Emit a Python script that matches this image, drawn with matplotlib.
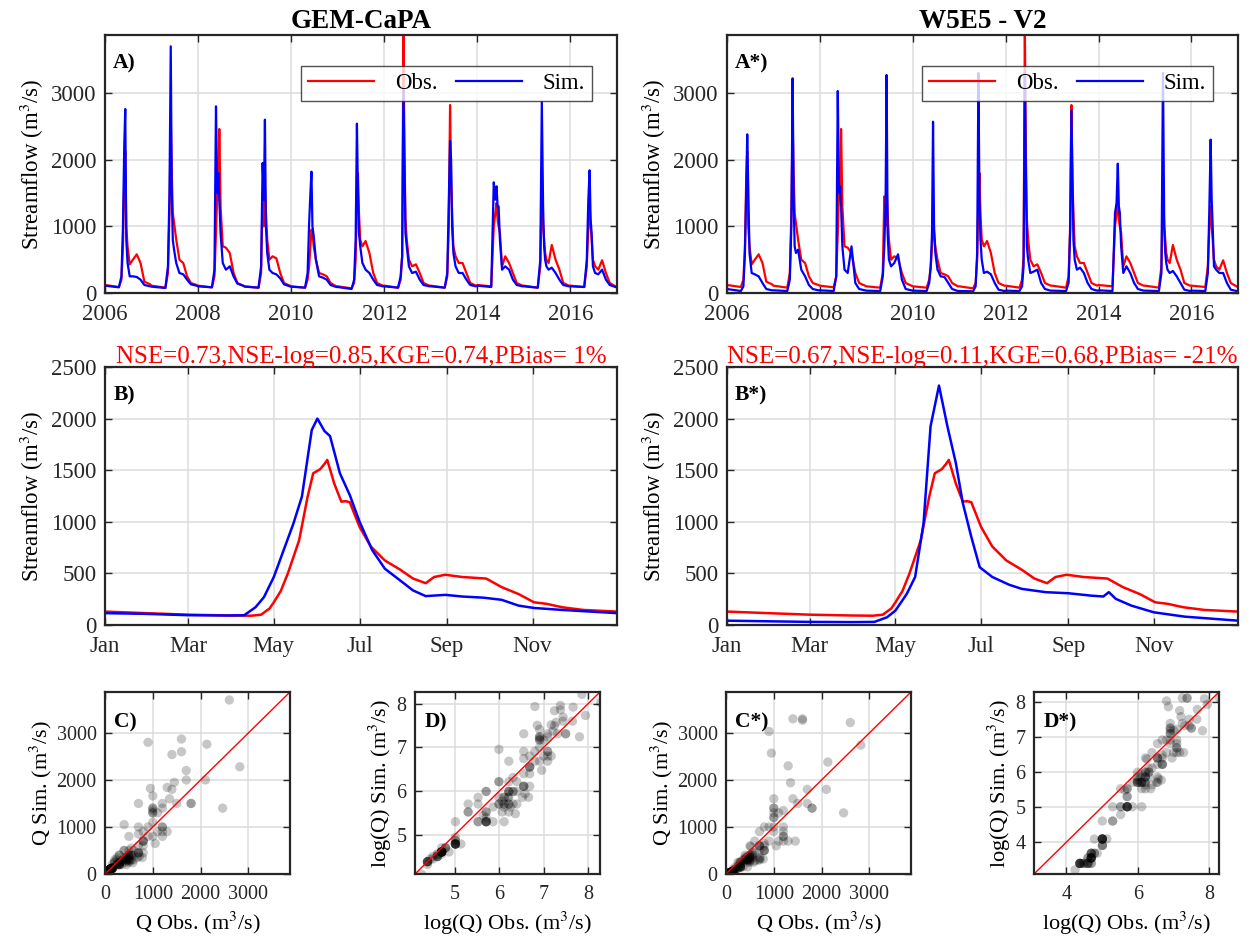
import matplotlib
matplotlib.use("Agg")
import matplotlib.pyplot as plt
import numpy as np
import datetime as dt

plt.rcParams['font.family'] = ['Liberation Serif', 'DejaVu Serif']
plt.rcParams['mathtext.fontset'] = 'stix'

# ---- daily-ish streamflow, read at a few days of each year (m3/s) ----
years = list(range(2006, 2017))
grid_doy = [1, 110, 130, 142, 152, 160, 168, 178, 195, 220, 250, 280, 310, 355]

q_obs = [
    [120, 90, 200, 700, 1700, 2130, 1000, 700, 430, 500, 580, 450, 170, 130],
    [110, 80, 300, 1200, 2600, 1800, 1200, 1050, 800, 500, 450, 250, 150, 120],
    [110, 85, 250, 900, 1500, 1400, 2460, 1300, 700, 680, 600, 300, 150, 110],
    [100, 80, 300, 1450, 1000, 1600, 1200, 800, 500, 550, 520, 300, 150, 110],
    [100, 80, 200, 400, 700, 950, 900, 700, 500, 300, 280, 250, 150, 100],
    [100, 70, 150, 500, 1400, 1800, 1200, 800, 700, 780, 600, 300, 150, 110],
    [110, 80, 200, 550, 3950, 2100, 1100, 800, 500, 400, 430, 300, 150, 110],
    [110, 80, 250, 1000, 2820, 1700, 1200, 700, 550, 450, 450, 300, 150, 110],
    [120, 100, 1000, 1200, 1350, 1100, 1000, 900, 400, 550, 450, 300, 150, 110],
    [110, 80, 400, 1600, 1000, 800, 600, 500, 450, 720, 500, 350, 150, 110],
    [110, 90, 400, 1000, 1300, 1000, 800, 500, 400, 350, 490, 300, 150, 100],
]
q_gem = [
    [110, 85, 250, 1000, 2200, 2760, 800, 450, 250, 250, 240, 200, 120, 100],
    [95, 75, 400, 1500, 3700, 1500, 800, 650, 450, 300, 280, 200, 130, 110],
    [100, 85, 350, 2800, 1500, 1800, 1400, 900, 450, 350, 400, 250, 140, 110],
    [95, 80, 400, 1950, 1400, 2600, 1000, 600, 350, 300, 280, 220, 130, 100],
    [95, 80, 300, 1050, 1500, 1820, 1000, 850, 500, 250, 230, 200, 120, 90],
    [90, 60, 200, 800, 2540, 1500, 900, 700, 450, 350, 300, 200, 120, 100],
    [100, 80, 250, 550, 3060, 2000, 900, 700, 400, 300, 320, 200, 120, 100],
    [100, 80, 300, 1350, 2280, 2000, 1000, 600, 400, 300, 300, 200, 120, 100],
    [110, 90, 1660, 1400, 1600, 1300, 1300, 800, 350, 400, 350, 200, 120, 100],
    [100, 80, 500, 2870, 1300, 700, 500, 400, 350, 380, 300, 200, 120, 100],
    [100, 90, 500, 1400, 1840, 1100, 900, 400, 300, 280, 350, 200, 120, 90],
]
q_w5e5 = [
    [60, 30, 100, 600, 1500, 2380, 1600, 600, 300, 280, 250, 150, 60, 40],
    [40, 30, 200, 1000, 3220, 1400, 700, 600, 650, 350, 250, 120, 60, 40],
    [40, 30, 250, 3030, 1500, 1600, 1300, 700, 350, 300, 700, 150, 60, 40],
    [35, 30, 250, 700, 1400, 3270, 900, 500, 400, 450, 580, 200, 60, 40],
    [35, 30, 150, 400, 900, 2570, 1000, 600, 350, 250, 240, 150, 60, 30],
    [30, 25, 100, 600, 3300, 1400, 800, 500, 300, 320, 280, 150, 50, 30],
    [35, 30, 100, 400, 3300, 1800, 700, 500, 300, 320, 350, 150, 60, 35],
    [35, 30, 150, 900, 2740, 1800, 800, 500, 350, 380, 300, 150, 60, 35],
    [40, 30, 1200, 1350, 1940, 1300, 1200, 700, 300, 400, 300, 150, 60, 35],
    [35, 30, 300, 3300, 1000, 600, 450, 350, 300, 330, 250, 150, 50, 30],
    [35, 30, 300, 1300, 2300, 1400, 1000, 400, 350, 300, 300, 150, 50, 30],
]

# ---- mean annual cycle (day of year, m3/s) ----
clim_obs_doy = [1, 30, 60, 90, 105, 112, 118, 121, 126, 131, 139, 145, 149, 154, 157,
                159, 164, 169, 172, 175, 182, 190, 200, 211, 220, 229, 235, 243, 255,
                272, 283, 295, 306, 315, 326, 341, 365]
clim_obs = [130, 115, 100, 92, 90, 100, 160, 220, 330, 500, 820, 1240, 1470, 1510, 1560,
            1600, 1370, 1195, 1200, 1190, 950, 760, 625, 535, 450, 405, 465, 487, 465,
            450, 367, 300, 220, 205, 172, 146, 130]
clim_gem_doy = [1, 30, 60, 90, 100, 108, 114, 121, 128, 135, 141, 148, 152, 157, 161,
                168, 175, 182, 191, 200, 211, 220, 229, 243, 255, 270, 283, 295, 306,
                326, 365]
clim_gem = [115, 108, 95, 92, 95, 172, 270, 465, 725, 985, 1245, 1890, 2000, 1880, 1830,
            1470, 1260, 1000, 725, 545, 430, 335, 280, 292, 276, 265, 244, 188, 165,
            146, 115]
clim_w5e5_doy = [1, 30, 60, 90, 106, 115, 121, 129, 135, 141, 146, 152, 158, 164, 169,
                 175, 181, 190, 202, 211, 228, 244, 260, 269, 273, 278, 289, 305, 327, 365]
clim_w5e5 = [42, 36, 30, 28, 30, 75, 140, 300, 465, 985, 1925, 2320, 1925, 1570, 1180,
             855, 560, 465, 390, 350, 318, 308, 285, 276, 318, 253, 188, 123, 81, 42]

titles = ["GEM-CaPA", "W5E5 - V2"]
metrics = ["NSE=0.73,NSE-log=0.85,KGE=0.74,PBias= 1%",
           "NSE=0.67,NSE-log=0.11,KGE=0.68,PBias= -21%"]
month_ticks = [1, 60, 121, 182, 244, 305]
month_names = ["Jan", "Mar", "May", "Jul", "Sep", "Nov"]

W, H = 1254, 943


def ax_rect(fig, l, t, r, b):
    return fig.add_axes([l / W, 1 - b / H, (r - l) / W, (b - t) / H])


def matlab_style(ax, fs=16):
    ax.tick_params(direction='in', top=True, right=True, length=5, width=1,
                   labelsize=fs, colors='#262626')
    ax.tick_params(axis='y', pad=6)
    ax.tick_params(axis='x', pad=8)
    for s in ax.spines.values():
        s.set_linewidth(1.6)
        s.set_color('#262626')
    ax.grid(True, color='#dcdcdc', linewidth=1.1)
    ax.set_axisbelow(True)


dates = [dt.date(y, 1, 1) + dt.timedelta(days=d - 1) for y in years for d in grid_doy]
obs = np.array(q_obs, dtype=float).ravel()
sims = [np.array(q_gem, dtype=float).ravel(), np.array(q_w5e5, dtype=float).ravel()]
clims = [(clim_gem_doy, clim_gem), (clim_w5e5_doy, clim_w5e5)]
star = ["", "*"]

fig = plt.figure(figsize=(W / 100, H / 100), dpi=100)

cols = [(105, 617), (727, 1238)]
for k in range(2):
    l, r = cols[k]
    # top: time series
    ax = ax_rect(fig, l, 35, r, 293)
    matlab_style(ax, fs=16.5)
    ax.plot(dates, obs, color='red', lw=1.6, label='Obs.')
    ax.plot(dates, sims[k], color='blue', lw=1.6, label='Sim.')
    ax.set_xlim(dt.date(2006, 1, 1), dt.date(2017, 1, 1))
    ax.set_ylim(0, 3870)
    ax.set_yticks([0, 1000, 2000, 3000])
    ax.set_xticks([dt.date(y, 1, 1) for y in range(2006, 2017, 2)])
    ax.set_xticklabels([str(y) for y in range(2006, 2017, 2)])
    ax.set_ylabel("Streamflow (m$^{3}$/s)", fontsize=16.5, labelpad=4)
    ax.set_title(titles[k], fontsize=19.5, fontweight='bold', pad=5)
    leg = ax.legend(loc='upper right', ncol=2, fontsize=16.5, fancybox=False,
                    edgecolor='#262626', handlelength=2.9, borderaxespad=0.3,
                    bbox_to_anchor=(0.965, 0.905), columnspacing=0.8, borderpad=0.3,
                    handletextpad=0.9)
    leg.get_frame().set_linewidth(1.0)
    ax.text(0.016, 0.89, "A" + star[k] + ")", transform=ax.transAxes, fontsize=15.5,
            fontweight='bold', va='center')

    # middle: mean annual cycle
    ax = ax_rect(fig, l, 367, r, 625)
    matlab_style(ax, fs=16.5)
    ax.plot(clim_obs_doy, clim_obs, color='red', lw=1.8)
    ax.plot(clims[k][0], clims[k][1], color='blue', lw=1.8)
    ax.set_xlim(1, 365)
    ax.set_ylim(0, 2500)
    ax.set_xticks(month_ticks)
    ax.set_xticklabels(month_names)
    ax.set_ylabel("Streamflow (m$^{3}$/s)", fontsize=16.5, labelpad=4)
    ax.set_title(metrics[k], fontsize=18, color='red', pad=3)
    ax.text(0.016, 0.89, "B" + star[k] + ")", transform=ax.transAxes, fontsize=15.5,
            fontweight='bold', va='center')

# bottom: scatter plots
scat = [(105, 290, 0, False), (415, 600, 0, True), (726, 911, 1, False), (1034, 1219, 1, True)]
letters = ["C)", "D)", "C*)", "D*)"]
for j, (l, r, k, use_log) in enumerate(scat):
    ax = ax_rect(fig, l, 692, r, 874)
    matlab_style(ax, fs=14.5)
    if use_log:
        x, y = np.log(obs), np.log(sims[k])
        lo = 4.1 if k == 0 else 3.1
        lims = (lo, 8.27)
        ax.set_xlabel("log(Q) Obs. (m$^{3}$/s)", fontsize=16)
        ax.set_ylabel("log(Q) Sim. (m$^{3}$/s)", fontsize=16, labelpad=2)
        if k == 0:
            ax.set_xticks([5, 6, 7, 8])
            ax.set_yticks([5, 6, 7, 8])
        else:
            ax.set_xticks([4, 6, 8])
            ax.set_yticks([4, 5, 6, 7, 8])
    else:
        x, y = obs, sims[k]
        lims = (0, 3870)
        ax.set_xticks([0, 1000, 2000, 3000])
        ax.set_yticks([0, 1000, 2000, 3000])
        ax.set_xlabel("Q Obs. (m$^{3}$/s)", fontsize=16)
        ax.set_ylabel("Q Sim. (m$^{3}$/s)", fontsize=16, labelpad=2)
    ax.scatter(x, y, s=45, color='black', alpha=0.22, edgecolors='none')
    ax.plot(lims, lims, color='red', lw=1)
    ax.set_xlim(lims)
    ax.set_ylim(lims)
    ax.text(0.05, 0.83, letters[j], transform=ax.transAxes, fontsize=15.5,
            fontweight='bold', va='center')

fig.savefig("out.png", dpi=100)
